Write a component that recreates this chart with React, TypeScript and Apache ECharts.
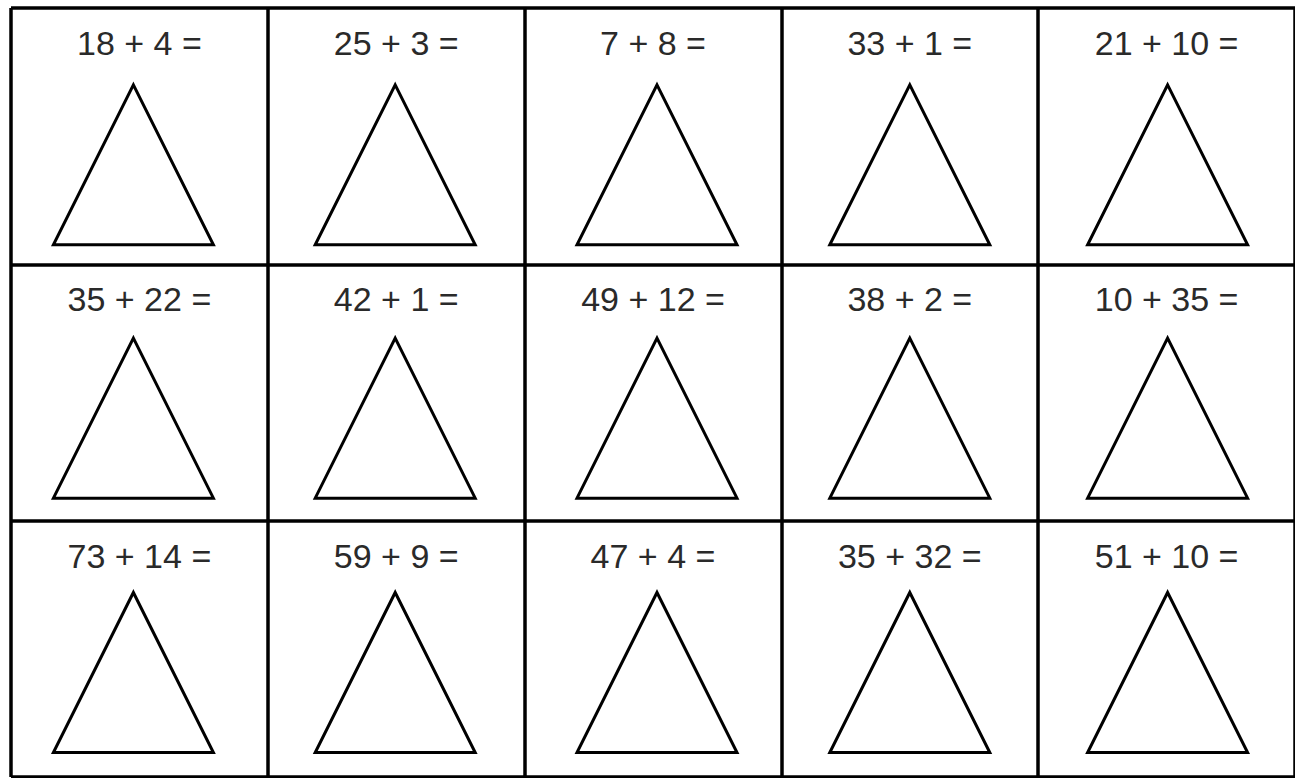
import React, { useEffect, useRef } from "react";
import * as echarts from "echarts";

// Worksheet content: 5 columns x 3 rows of addition problems
const firstAddends = [18, 25, 7, 33, 21, 35, 42, 49, 38, 10, 73, 59, 47, 35, 51];
const secondAddends = [4, 3, 8, 1, 10, 22, 1, 12, 2, 35, 14, 9, 4, 32, 10];
const columnCount = 5;
const rowCount = 3;

export default function App() {
  const ref = useRef<HTMLDivElement>(null);

  useEffect(() => {
    if (!ref.current) return;
    const chart = echarts.init(ref.current, null, { renderer: "svg" });

    const cells = firstAddends.map((a, i) => {
      const col = i % columnCount;
      const row = Math.floor(i / columnCount);
      return { a, b: secondAddends[i], col, row };
    });

    // small per-column / per-row nudges of the triangles, as in the worksheet
    const colNudge = [-6, -1, 4, 0, 1];
    const rowNudge = [3, 0, -2];

    const triangleData = cells.map((c) => ({
      value: [c.col + 0.5, c.row + 0.6],
      symbolOffset: [colNudge[c.col], rowNudge[c.row]],
    }));

    const labelData = cells.map((c) => ({
      value: [c.col + 0.5, c.row + 0.137],
      name: `${c.a} + ${c.b} =`,
    }));

    chart.setOption({
      animation: false,
      backgroundColor: "#ffffff",
      grid: { left: 11, right: 0, top: 8, bottom: 1, containLabel: false },
      xAxis: {
        type: "value",
        min: 0,
        max: columnCount,
        interval: 1,
        axisLine: { show: false },
        axisTick: { show: false },
        axisLabel: { show: false },
        splitLine: { show: true, lineStyle: { color: "#000000", width: 3.5 } },
      },
      yAxis: {
        type: "value",
        inverse: true,
        min: 0,
        max: rowCount,
        interval: 1,
        axisLine: { show: false },
        axisTick: { show: false },
        axisLabel: { show: false },
        splitLine: { show: true, lineStyle: { color: "#000000", width: 3.5 } },
      },
      series: [
        {
          type: "scatter",
          symbol: "triangle",
          symbolSize: [160, 160],
          data: triangleData,
          itemStyle: {
            color: "#ffffff",
            borderColor: "#000000",
            borderWidth: 3,
            opacity: 1,
          },
          emphasis: { disabled: true },
          silent: true,
        },
        {
          type: "scatter",
          symbolSize: 0,
          data: labelData,
          itemStyle: { opacity: 1 },
          label: {
            show: true,
            position: "inside",
            formatter: (p: any) => p.name,
            fontFamily: "'Liberation Sans', Arial, sans-serif",
            fontSize: 34,
            color: "#2a2a2a",
            align: "center",
            verticalAlign: "middle",
          },
          emphasis: { disabled: true },
          silent: true,
        },
      ],
    });

    return () => {
      chart.dispose();
    };
  }, []);

  return (
    <div
      ref={ref}
      style={{
        position: "fixed",
        left: 0,
        top: 0,
        width: 1295,
        height: 778,
        background: "#ffffff",
      }}
    />
  );
}
